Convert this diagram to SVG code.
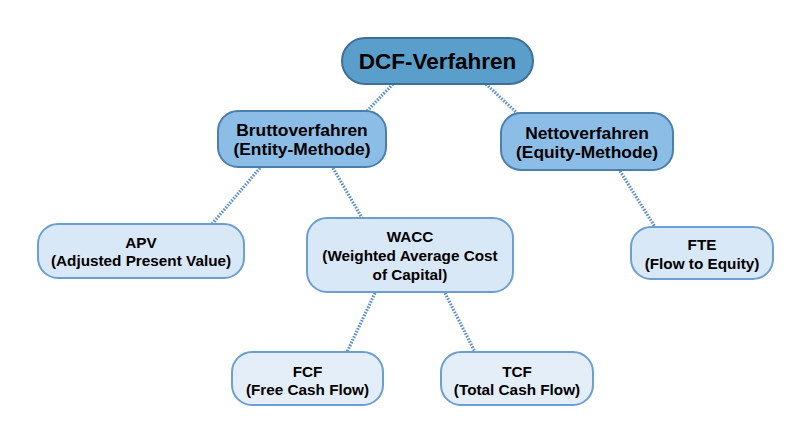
<svg xmlns="http://www.w3.org/2000/svg" width="810" height="444" viewBox="0 0 810 444">
<style>
text{font-family:"Liberation Sans",Arial,sans-serif;font-weight:bold;fill:#000;text-anchor:middle}
.c{stroke:#5b8fc7;stroke-width:3.2;stroke-dasharray:1.6 1.4;fill:none}
.root{fill:#5a9fcc;stroke:#3f6f96;stroke-width:2}
.mid{fill:#8cbde7;stroke:#4a7fae;stroke-width:2}
.leaf{fill:#d9e8f7;stroke:#6b9fd2;stroke-width:2}
.leaf2{fill:#e4eef8;stroke:#6b9fd2;stroke-width:2}
.t1{font-size:22.5px}.t2{font-size:17.4px}.t3{font-size:15.3px}
</style>
<rect width="810" height="444" fill="#fff"/>
<g id="connectors">
<line class="c" x1="393" y1="84" x2="367" y2="111"/>
<line class="c" x1="486" y1="84" x2="517" y2="113"/>
<line class="c" x1="260" y1="168" x2="212" y2="224"/>
<line class="c" x1="333" y1="168" x2="362" y2="218"/>
<line class="c" x1="620" y1="171" x2="655" y2="227"/>
<line class="c" x1="375" y1="293" x2="347" y2="352"/>
<line class="c" x1="445" y1="293" x2="475" y2="352"/>
</g>
<g id="dcf"><rect class="root" x="342" y="38" width="191" height="46" rx="23"/><text class="t1" x="437.5" y="69">DCF-Verfahren</text></g>
<g id="brutto"><rect class="mid" x="218" y="111" width="168" height="56" rx="20"/><text class="t2" x="302" y="136">Bruttoverfahren</text><text class="t2" x="302" y="155">(Entity-Methode)</text></g>
<g id="netto"><rect class="mid" x="501" y="113" width="172" height="57" rx="20"/><text class="t2" x="587" y="139">Nettoverfahren</text><text class="t2" x="587" y="158">(Equity-Methode)</text></g>
<g id="apv"><rect class="leaf" x="38" y="224" width="206" height="54" rx="20"/><text class="t3" x="141" y="248">APV</text><text class="t3" x="141" y="266">(Adjusted Present Value)</text></g>
<g id="wacc"><rect class="leaf" x="307" y="218" width="206" height="74" rx="20"/><text class="t3" x="410" y="242">WACC</text><text class="t3" x="410" y="261">(Weighted Average Cost</text><text class="t3" x="410" y="280">of Capital)</text></g>
<g id="fte"><rect class="leaf" x="631" y="227" width="142" height="52" rx="20"/><text class="t3" x="702" y="250">FTE</text><text class="t3" x="702" y="269">(Flow to Equity)</text></g>
<g id="fcf"><rect class="leaf2" x="232" y="352" width="151" height="53" rx="20"/><text class="t3" x="307.5" y="377">FCF</text><text class="t3" x="307.5" y="395">(Free Cash Flow)</text></g>
<g id="tcf"><rect class="leaf2" x="441" y="352" width="152" height="53" rx="20"/><text class="t3" x="517" y="377">TCF</text><text class="t3" x="517" y="395">(Total Cash Flow)</text></g>
</svg>
